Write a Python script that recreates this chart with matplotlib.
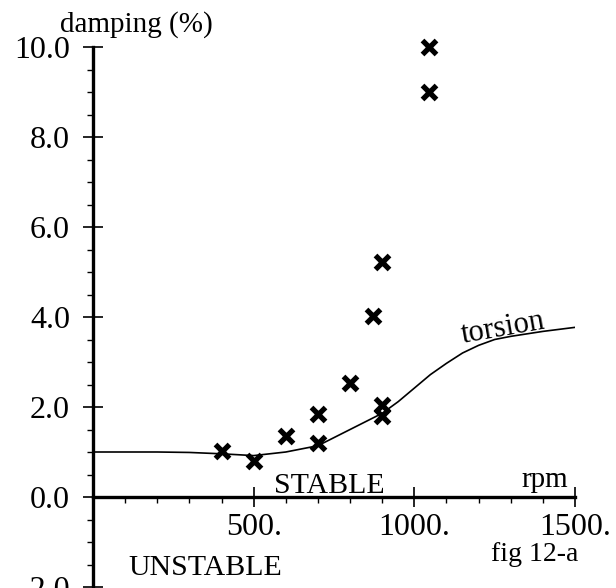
import matplotlib
matplotlib.use("Agg")
import matplotlib.pyplot as plt
import numpy as np
from matplotlib.ticker import MultipleLocator, FuncFormatter

# measured points (x markers)
rpm_pts = [400, 500, 600, 700, 700, 800, 870, 900, 900, 900, 1045, 1045]
damp_pts = [1.02, 0.79, 1.36, 1.84, 1.21, 2.53, 4.03, 5.22, 2.05, 1.81, 10.0, 9.0]

# torsion mode curve
rpm_tor = [0, 100, 200, 300, 400, 500, 600, 700, 800, 900, 950, 1000, 1050, 1100,
           1150, 1200, 1250, 1300, 1400, 1500]
damp_tor = [1.0, 1.0, 1.0, 0.99, 0.96, 0.92, 1.0, 1.14, 1.5, 1.86, 2.12, 2.42, 2.72, 2.97,
            3.2, 3.37, 3.5, 3.57, 3.68, 3.77]

y_major = [-2, 0, 2, 4, 6, 8, 10]
x_major = [500, 1000, 1500]

plt.rcParams['font.family'] = ['Liberation Serif', 'DejaVu Serif']

fig = plt.figure(figsize=(6.16, 5.88), dpi=100)
ax = fig.add_axes([93/616, 1 - 587/588, (575 - 93)/616, (587 - 47)/588])

ax.plot(rpm_tor, damp_tor, color='black', lw=1.2)
ax.plot(rpm_pts, damp_pts, linestyle='none', marker='x', color='black',
        markersize=9.5, markeredgewidth=3.8, clip_on=False)

ax.set_xlim(0, 1500)
ax.set_ylim(-2, 10)

for s in ['top', 'right']:
    ax.spines[s].set_visible(False)
ax.spines['left'].set_position(('data', 0))
ax.spines['bottom'].set_position(('data', 0))
ax.spines['left'].set_linewidth(2.4)
ax.spines['bottom'].set_linewidth(2.4)

ax.set_yticks(y_major)
ax.yaxis.set_minor_locator(MultipleLocator(0.5))
ax.yaxis.set_major_formatter(FuncFormatter(lambda v, p: '%.1f' % v))
ax.set_xticks(x_major)
ax.xaxis.set_minor_locator(MultipleLocator(100))
ax.xaxis.set_major_formatter(FuncFormatter(lambda v, p: '%d.' % v))

ax.tick_params(axis='both', which='major', direction='inout', length=15, width=1.2,
               labelsize=23)
ax.tick_params(axis='y', which='major', pad=9)
ax.tick_params(axis='x', which='major', pad=4)
ax.tick_params(axis='both', which='minor', direction='out', length=4, width=1.0)

ax.text(736, 0.09, 'STABLE', fontsize=21.5, ha='center', va='baseline')
ax.text(1478, 0.22, 'rpm', fontsize=21, ha='right', va='baseline')
ax.text(1510, -1.42, 'fig 12-a', fontsize=20, ha='right', va='baseline')
ax.text(110, -1.58, 'UNSTABLE', fontsize=21.5, ha='left', va='center')
ax.text(1275, 3.76, 'torsion', fontsize=22, ha='center', va='center', rotation=10)

fig.text(60/616, 1 - 32/588, 'damping (%)', fontsize=21, ha='left', va='baseline')

fig.savefig('out.png', dpi=100)
